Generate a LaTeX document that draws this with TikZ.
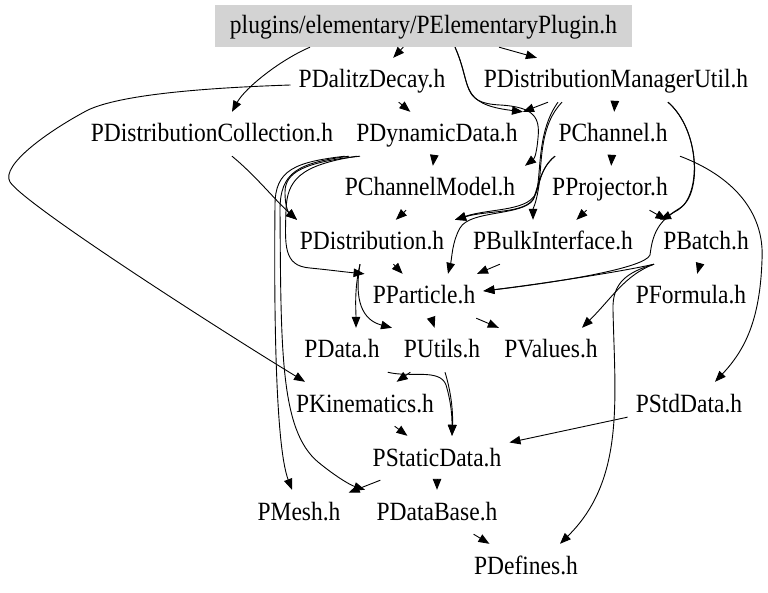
\documentclass[tikz,border=0pt]{standalone}
\usepackage{fontspec}
\setmainfont{Liberation Serif}
\usepackage{graphicx}
\usetikzlibrary{arrows.meta}
\definecolor{rootgray}{RGB}{211,211,211}
\newcommand{\lbltxt}[1]{\scalebox{1}[1.12]{#1}}
\begin{document}
\begin{tikzpicture}[x=1pt,y=-1pt,
  lbl/.style={font=\fontsize{23.5}{28}\selectfont, minimum height=44pt, inner xsep=8pt, inner ysep=0pt, text height=20pt, text depth=4pt},
  rootbox/.style={lbl, fill=rootgray, minimum width=417pt, minimum height=42pt},
  dep/.style={draw=black, line width=0.9pt, -{Triangle[length=11pt,width=8.5pt]}}]
\useasboundingbox[fill=white] (0,0) rectangle (768,593);

\node[rootbox] (root) at (423.5,26) {\lbltxt{plugins/elementary/PElementaryPlugin.h}};
\node[lbl] (pdal) at (372,80) {\lbltxt{PDalitzDecay.h}};
\node[lbl] (pdmu) at (616,80) {\lbltxt{PDistributionManagerUtil.h}};
\node[lbl] (pdcoll) at (212,134) {\lbltxt{PDistributionCollection.h}};
\node[lbl] (pdyn) at (437,134) {\lbltxt{PDynamicData.h}};
\node[lbl] (pchan) at (613,134) {\lbltxt{PChannel.h}};
\node[lbl] (pcm) at (430,188) {\lbltxt{PChannelModel.h}};
\node[lbl] (pproj) at (610,188) {\lbltxt{PProjector.h}};
\node[lbl] (pdist) at (372,242) {\lbltxt{PDistribution.h}};
\node[lbl] (pbulk) at (553,242) {\lbltxt{PBulkInterface.h}};
\node[lbl] (pbatch) at (706,242) {\lbltxt{PBatch.h}};
\node[lbl] (ppart) at (424,296) {\lbltxt{PParticle.h}};
\node[lbl] (pform) at (691,296) {\lbltxt{PFormula.h}};
\node[lbl] (pdata) at (342,350) {\lbltxt{PData.h}};
\node[lbl] (putils) at (442,350) {\lbltxt{PUtils.h}};
\node[lbl] (pvals) at (551,350) {\lbltxt{PValues.h}};
\node[lbl] (pkin) at (365,404) {\lbltxt{PKinematics.h}};
\node[lbl] (pstd) at (689,404) {\lbltxt{PStdData.h}};
\node[lbl] (pstat) at (437,458) {\lbltxt{PStaticData.h}};
\node[lbl] (pmesh) at (299,512) {\lbltxt{PMesh.h}};
\node[lbl] (pdb) at (437,512) {\lbltxt{PDataBase.h}};
\node[lbl] (pdef) at (526,566) {\lbltxt{PDefines.h}};

% root edges
\draw[dep] (root) -- (pdal);
\draw[dep] (root) -- (pdmu);
\draw[dep] ([xshift=-113.5pt]root.south) .. controls (280,60) and (245,88) .. ([xshift=20pt]pdcoll.north);
\draw[dep] ([xshift=31.5pt]root.south) .. controls (472,85) and (458,104) .. ([xshift=86pt]pdyn.north);
\draw[dep] ([xshift=31.5pt]root.south) .. controls (472,85) and (460,103) .. (500,105)
   .. controls (535,107) and (540,118) .. (538,138) .. controls (537,150) and (535,158) .. ([xshift=95pt]pcm.north);

% PDalitzDecay
\draw[dep] (pdal) -- (pdyn);
\draw[dep] ([yshift=-5pt]pdal.west) .. controls (200,88) and (120,95) .. (88,110)
   .. controls (50,130) and (0,165) .. (10,182) .. controls (25,205) and (220,330) .. ([xshift=-60pt]pkin.north);

% PDistributionManagerUtil
\draw[dep] ([xshift=-68pt]pdmu.south) -- ([xshift=86pt]pdyn.north);
\draw[dep] (pdmu) -- (pchan);
\draw[dep] ([xshift=-54pt]pdmu.south) .. controls (540,125) and (542,160) .. (539,185)
   .. controls (536,205) and (533,208) .. ([xshift=-20pt]pbulk.north);
\draw[dep] ([xshift=-58pt]pdmu.south) .. controls (538,130) and (541,168) .. (537,190)
   .. controls (532,212) and (490,208) .. ([xshift=83pt]pdist.north);
\draw[dep] ([xshift=52pt]pdmu.south) .. controls (700,130) and (702,195) .. (680,208)
   .. controls (672,213) and (668,216) .. ([xshift=-46pt]pbatch.north);
\draw[dep] ([xshift=52pt]pdmu.south) .. controls (700,130) and (702,195) .. (678,210)
   .. controls (655,222) and (652,240) .. (650,255) .. controls (645,268) and (560,282) .. ([yshift=5pt]ppart.east);

% PDistributionCollection
\draw[dep] ([xshift=20pt]pdcoll.south) .. controls (255,175) and (275,200) .. ([xshift=-75pt]pdist.north);

% PDynamicData
\draw[dep] (pdyn) -- (pcm);
\draw[dep] ([xshift=-77pt]pdyn.south) .. controls (305,162) and (285,172) .. (285,192)
   .. controls (285,210) and (290,214) .. ([xshift=-75pt]pdist.north);
\draw[dep] ([xshift=-80pt]pdyn.south) .. controls (300,165) and (287,180) .. (286,210)
   .. controls (285,245) and (283,266) .. (310,268) .. controls (330,270) and (345,272) .. (ppart.north west);
\draw[dep] ([xshift=-92pt]pdyn.south) .. controls (295,162) and (275,170) .. (275,205)
   .. controls (274,300) and (275,445) .. ([xshift=-7pt]pmesh.north);
\draw[dep] ([xshift=-88pt]pdyn.south) .. controls (298,163) and (280,172) .. (280,210)
   .. controls (281,350) and (280,430) .. (318,462) .. controls (335,476) and (350,485) .. ([xshift=-72pt]pdb.north);

% PChannel
\draw[dep] (pchan) -- (pproj);
\draw[dep] ([xshift=-58pt]pchan.south) .. controls (540,168) and (540,185) .. (534,198)
   .. controls (525,214) and (488,210) .. ([xshift=83pt]pdist.north);
\draw[dep] ([xshift=-58pt]pchan.south) .. controls (540,168) and (538,188) .. (533,200)
   .. controls (522,216) and (470,210) .. (460,228) .. controls (452,242) and (452,258) .. ([xshift=24pt]ppart.north);
\draw[dep] ([xshift=67pt]pchan.south) .. controls (730,175) and (765,210) .. (762,260)
   .. controls (760,320) and (745,350) .. ([xshift=26pt]pstd.north);

% PChannelModel, PProjector
\draw[dep] (pcm) -- (pdist);
\draw[dep] (pproj) -- (pbulk);
\draw[dep] (pproj) -- (pbatch);

% PDistribution
\draw[dep] (pdist) -- (ppart);
\draw[dep] ([xshift=-12pt]pdist.south) .. controls (354,290) and (356,310) .. ([xshift=14pt]pdata.north);
\draw[dep] ([xshift=-12pt]pdist.south) .. controls (354,300) and (362,320) .. ([xshift=-50pt]putils.north);

% PBulkInterface, PBatch
\draw[dep] (pbulk) -- (ppart);
\draw[dep] (pbatch) -- (pform);
\draw[dep] ([xshift=-52pt]pbatch.south) .. controls (620,272) and (540,284) .. ([yshift=5pt]ppart.east);
\draw[dep] ([xshift=-52pt]pbatch.south) .. controls (625,275) and (612,298) .. ([xshift=31pt]pvals.north);
\draw[dep] ([xshift=-52pt]pbatch.south) .. controls (628,272) and (612,282) .. (613,310)
   .. controls (615,400) and (625,480) .. ([xshift=34pt]pdef.north);

% PParticle
\draw[dep] (ppart) -- (putils);
\draw[dep] (ppart) -- (pvals);

% PData, PUtils
\draw[dep] (pdata.south east) .. controls (410,378) and (440,368) .. (446,385)
   .. controls (452,405) and (452,420) .. ([xshift=15pt]pstat.north);
\draw[dep] (putils) -- (pkin);
\draw[dep] ([xshift=3pt]putils.south) .. controls (452,395) and (453,415) .. ([xshift=15pt]pstat.north);

% lower part
\draw[dep] (pkin) -- (pstat);
\draw[dep] (pstd) -- (pstat);
\draw[dep] (pstat) -- (pdb);
\draw[dep] (pstat) -- (pmesh);
\draw[dep] (pdb) -- (pdef);
\end{tikzpicture}
\end{document}
